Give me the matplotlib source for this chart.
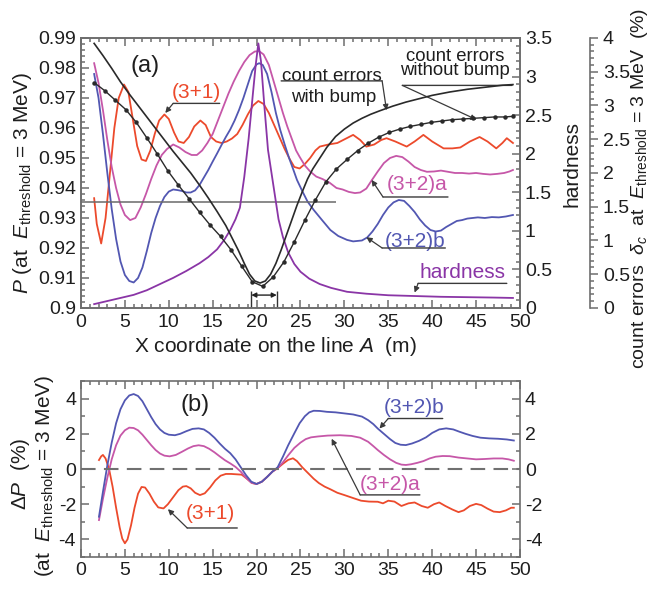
import matplotlib
matplotlib.use('Agg')
import matplotlib.pyplot as plt
from matplotlib.ticker import MultipleLocator, FuncFormatter

plt.rcParams['font.family'] = ['Liberation Sans', 'DejaVu Sans']
plt.rcParams['mathtext.fontset'] = 'custom'
plt.rcParams['mathtext.rm'] = 'Liberation Sans'
plt.rcParams['mathtext.it'] = 'Liberation Sans:italic'
plt.rcParams['mathtext.bf'] = 'Liberation Sans:bold'
plt.rcParams['axes.unicode_minus'] = False

# ---------------- data: panel (a) ----------------
x_31 = [1.5, 1.8, 2.3, 2.8, 3.3, 3.8, 4.3, 4.9, 5.4, 5.9, 6.4, 6.9, 7.4, 7.9, 8.4, 8.9, 9.5,
        10.0, 10.6, 11.1, 11.7, 12.3, 12.9, 13.6, 14.2, 14.8, 15.4, 16.0, 16.6, 17.2, 17.8,
        18.4, 19.0, 19.6, 20.2, 20.8, 21.4, 22.0, 22.6, 23.2, 23.8, 24.3, 24.9, 25.5, 26.1,
        26.7, 27.2, 28.2, 29.2, 30.2, 31.0, 31.8, 32.5, 33.4, 34.2, 34.8, 35.8, 37.1, 38.0,
        39.0, 40.0, 41.3, 42.3, 43.2, 44.3, 45.4, 46.3, 47.3, 48.0, 48.5, 49.2]
p_31 = [0.9366, 0.928, 0.9215, 0.930, 0.945, 0.960, 0.970, 0.9745, 0.972, 0.963, 0.954,
        0.9495, 0.949, 0.9525, 0.958, 0.9625, 0.9645, 0.963, 0.9585, 0.9555, 0.955, 0.957,
        0.9605, 0.9625, 0.961, 0.957, 0.9555, 0.955, 0.9555, 0.9565, 0.958, 0.961, 0.9645,
        0.9675, 0.969, 0.968, 0.965, 0.961, 0.957, 0.953, 0.9495, 0.947, 0.9465, 0.948, 0.950,
        0.9525, 0.9538, 0.9545, 0.955, 0.9565, 0.9577, 0.956, 0.9538, 0.9545, 0.956, 0.9566,
        0.9555, 0.9538, 0.9555, 0.9577, 0.9555, 0.9532, 0.9532, 0.9535, 0.9555, 0.957, 0.9555,
        0.9532, 0.955, 0.9566, 0.955]

x_32b = [1.5, 2.0, 2.5, 3.0, 3.5, 4.0, 4.5, 5.0, 5.5, 6.0, 6.5, 7.0, 7.5, 8.0, 8.5, 9.0, 9.5,
         10.0, 10.5, 11.0, 11.5, 12.0, 12.5, 13.0, 13.5, 14.0, 14.5, 15.0, 15.5, 16.0, 16.5,
         17.0, 17.5, 18.0, 18.5, 19.0, 19.5, 20.0, 20.3, 20.7, 21.2, 21.7, 22.2, 22.7, 23.2,
         23.7, 24.2, 24.6, 25.2, 25.8, 26.5, 27.4, 28.4, 29.3, 30.3, 31.0, 32.0, 32.6, 33.2,
         33.8, 34.4, 35.0, 35.6, 36.2, 36.8, 37.4, 38.0, 38.6, 39.2, 39.8, 40.4, 41.0, 41.6,
         42.2, 42.8, 43.4, 44.0, 44.6, 45.2, 46.0, 46.8, 47.6, 48.4, 49.2]
p_32b = [0.978, 0.970, 0.958, 0.945, 0.933, 0.923, 0.9155, 0.911, 0.909, 0.9085, 0.910,
         0.9135, 0.919, 0.925, 0.930, 0.934, 0.937, 0.9388, 0.9395, 0.9393, 0.939, 0.9385,
         0.9385, 0.9392, 0.941, 0.9435, 0.946, 0.9488, 0.9515, 0.9543, 0.957, 0.9595, 0.9625,
         0.966, 0.970, 0.9745, 0.979, 0.9812, 0.9816, 0.981, 0.978, 0.972, 0.965, 0.9593,
         0.9545, 0.950, 0.946, 0.9427, 0.939, 0.9355, 0.9327, 0.9295, 0.926, 0.924, 0.9227,
         0.9222, 0.9225, 0.9235, 0.9255, 0.928, 0.931, 0.9335, 0.9352, 0.936, 0.9357, 0.934,
         0.932, 0.9295, 0.9275, 0.926, 0.9255, 0.9258, 0.927, 0.928, 0.929, 0.9293, 0.9298,
         0.930, 0.9302, 0.930, 0.9303, 0.9302, 0.9305, 0.931]

x_32a = [1.5, 2.0, 2.5, 3.0, 3.5, 4.0, 4.5, 5.0, 5.6, 6.2, 6.8, 7.4, 8.0, 8.6, 9.2, 9.8, 10.5,
         11.2, 11.9, 12.6, 13.2, 13.8, 14.4, 15.0, 15.6, 16.2, 16.8, 17.4, 18.0, 18.6, 19.2,
         19.8, 20.3, 20.8, 21.4, 22.0, 22.5, 23.0, 23.5, 24.0, 24.5, 24.9, 25.5, 26.1, 26.8,
         27.5, 28.3, 29.1, 29.8, 30.5, 31.2, 31.8, 32.5, 33.1, 33.8, 34.5, 35.2, 35.9, 36.6,
         37.3, 38.0, 38.7, 39.4, 40.2, 41.0, 41.8, 42.6, 43.4, 44.2, 45.0, 45.8, 46.6, 47.4,
         48.2, 48.8, 49.2]
p_32a = [0.9816, 0.975, 0.966, 0.956, 0.947, 0.940, 0.9345, 0.931, 0.9293, 0.930, 0.9335,
         0.938, 0.943, 0.9475, 0.951, 0.953, 0.9545, 0.9535, 0.952, 0.951, 0.951, 0.9525,
         0.955, 0.958, 0.9625, 0.967, 0.9715, 0.9755, 0.979, 0.982, 0.9843, 0.9855, 0.9856,
         0.9845, 0.981, 0.975, 0.970, 0.965, 0.9605, 0.9565, 0.9525, 0.9504, 0.9475, 0.9455,
         0.9438, 0.943, 0.9418, 0.940, 0.9395, 0.9387, 0.9383, 0.9385, 0.9398, 0.9425, 0.9455,
         0.9483, 0.950, 0.9507, 0.9503, 0.9488, 0.947, 0.946, 0.9454, 0.9455, 0.9458, 0.9454,
         0.945, 0.945, 0.9448, 0.945, 0.9447, 0.9445, 0.9447, 0.945, 0.9455, 0.946]

x_hard = [1.5, 3, 4.5, 6, 7.5, 9, 10.5, 12, 13.5, 14.5, 15.5, 16.3, 17.0, 17.6, 18.1, 18.6,
          19.1, 19.6, 19.9, 20.2, 20.5, 20.9, 21.3, 21.9, 22.5, 23.0, 23.6, 24.3, 25.0, 26.0,
          27.2, 28.5, 30.3, 32.5, 35.0, 38.0, 41.0, 44.0, 47.0, 49.2]
hardness = [0.05, 0.09, 0.13, 0.17, 0.23, 0.31, 0.39, 0.48, 0.58, 0.66, 0.76, 0.88, 1.01,
            1.15, 1.3, 1.7, 2.2, 2.8, 3.15, 3.43, 3.2, 2.6, 2.05, 1.6, 1.15, 0.92, 0.72, 0.57,
            0.47, 0.38, 0.31, 0.26, 0.21, 0.185, 0.165, 0.155, 0.145, 0.14, 0.135, 0.13]

x_bump = [1.5, 2.5, 3.5, 4.5, 5.5, 6.5, 7.5, 8.5, 9.5, 10.5, 11.5, 12.5, 13.5, 14.5, 15.5,
          16.5, 17.2, 17.9, 18.6, 19.2, 19.8, 20.4, 21.0, 21.6, 22.2, 22.8, 23.4, 24.0, 24.6,
          25.2, 25.8, 26.4, 27.2, 28.0, 29.0, 30.0, 31.0, 32.0, 33.0, 34.0, 35.5, 37.0, 38.5,
          40.0, 42.0, 44.0, 46.0, 48.0, 49.2]
err_bump = [3.92, 3.74, 3.55, 3.35, 3.17, 3.00, 2.83, 2.66, 2.49, 2.32, 2.16, 2.00, 1.82,
            1.63, 1.43, 1.22, 1.04, 0.86, 0.66, 0.50, 0.40, 0.37, 0.40, 0.50, 0.66, 0.86, 1.08,
            1.30, 1.52, 1.72, 1.91, 2.06, 2.22, 2.38, 2.54, 2.65, 2.74, 2.81, 2.87, 2.92, 2.99,
            3.05, 3.10, 3.15, 3.20, 3.24, 3.27, 3.30, 3.31]

x_nobump = [1.5, 2.7, 3.9, 5.1, 6.3, 7.5, 8.7, 9.9, 11.1, 12.3, 13.5, 14.7, 15.9, 17.1, 18.3,
            19.5, 20.7, 21.9, 23.1, 24.3, 25.5, 26.7, 27.9, 29.1, 30.3, 31.5, 32.7, 33.9, 35.1,
            36.3, 37.5, 38.7, 39.9, 41.1, 42.3, 43.5, 44.7, 45.9, 47.1, 48.3, 49.2]
err_nobump = [3.34, 3.22, 3.08, 2.94, 2.75, 2.52, 2.28, 2.03, 1.82, 1.62, 1.42, 1.23, 1.06,
              0.86, 0.62, 0.39, 0.32, 0.46, 0.68, 0.98, 1.30, 1.60, 1.87, 2.06, 2.20, 2.33,
              2.44, 2.53, 2.60, 2.65, 2.69, 2.72, 2.75, 2.77, 2.79, 2.80, 2.81, 2.82, 2.83,
              2.83, 2.84]

ref_level = 0.9352      # horizontal reference line
ref_xmax = 29.0
fwhm_x = [19.4, 22.3]   # double arrow
fwhm_y = 0.9043

# ---------------- data: panel (b) ----------------
xb_32b = [2.05, 2.5, 3.0, 3.5, 4.0, 4.5, 5.0, 5.5, 6.0, 6.5, 7.0, 7.5, 8.0, 8.5, 9.0, 9.5,
          10.0, 10.7, 11.3, 12.0, 12.7, 13.4, 14.0, 14.6, 15.2, 15.8, 16.4, 17.0, 17.6, 18.2,
          18.8, 19.4, 20.0, 20.6, 21.2, 21.8, 22.4, 23.0, 23.6, 24.3, 24.9, 25.5, 26.0, 26.5,
          27.2, 28.0, 29.0, 30.0, 31.0, 32.0, 32.7, 33.3, 33.8, 34.5, 35.2, 35.8, 36.4, 37.0,
          37.7, 38.5, 39.3, 40.0, 40.8, 41.6, 42.4, 43.1, 43.8, 44.6, 45.5, 46.5, 47.5, 48.5,
          49.3]
dp_32b = [-2.71, -1.3, 0.2, 1.5, 2.6, 3.4, 3.9, 4.18, 4.26, 4.15, 3.85, 3.4, 2.95, 2.55, 2.25,
          2.05, 1.95, 1.92, 2.0, 2.15, 2.28, 2.31, 2.25, 2.05, 1.78, 1.45, 1.15, 0.9, 0.55, 0.1,
          -0.35, -0.72, -0.85, -0.72, -0.45, -0.15, 0.1, 0.7, 1.35, 2.03, 2.6, 3.0, 3.22, 3.31,
          3.3, 3.25, 3.22, 3.16, 3.1, 2.98, 2.78, 2.55, 2.3, 2.0, 1.7, 1.48, 1.38, 1.36, 1.45,
          1.6, 1.8, 2.05, 2.25, 2.31, 2.25, 2.12, 2.0, 1.88, 1.78, 1.74, 1.72, 1.68, 1.62]

xb_32a = [2.05, 2.5, 3.0, 3.5, 4.0, 4.5, 5.0, 5.5, 6.0, 6.5, 7.0, 7.5, 8.0, 8.5, 9.0, 9.5,
          10.1, 10.8, 11.5, 12.2, 12.8, 13.4, 14.0, 14.6, 15.2, 15.8, 16.4, 17.0, 17.6, 18.2,
          18.8, 19.4, 20.0, 20.6, 21.2, 21.8, 22.4, 23.0, 23.6, 24.3, 25.0, 25.6, 26.2, 27.0,
          28.1, 29.5, 30.8, 31.8, 32.7, 33.3, 33.8, 34.5, 35.2, 35.9, 36.5, 37.0, 37.6, 38.3,
          39.0, 39.7, 40.4, 41.2, 42.0, 43.0, 44.0, 45.0, 46.0, 47.0, 48.0, 48.7, 49.3]
dp_32a = [-2.9, -1.7, -0.5, 0.55, 1.35, 1.9, 2.2, 2.35, 2.33, 2.2, 1.95, 1.65, 1.35, 1.08,
          0.88, 0.76, 0.72, 0.8, 0.98, 1.17, 1.3, 1.35, 1.3, 1.15, 0.95, 0.72, 0.5, 0.32, 0.12,
          -0.15, -0.5, -0.78, -0.85, -0.72, -0.45, -0.15, 0.05, 0.38, 0.78, 1.2, 1.5, 1.7, 1.8,
          1.85, 1.9, 1.92, 1.88, 1.78, 1.55, 1.3, 1.08, 0.8, 0.55, 0.35, 0.25, 0.23, 0.27, 0.35,
          0.45, 0.6, 0.7, 0.74, 0.73, 0.65, 0.6, 0.55, 0.57, 0.6, 0.6, 0.55, 0.47]

xb_31 = [2.05, 2.3, 2.5, 2.8, 3.2, 3.6, 4.0, 4.4, 4.7, 5.0, 5.3, 5.7, 6.1, 6.5, 6.9, 7.3, 7.8,
         8.3, 8.8, 9.4, 9.9, 10.5, 11.1, 11.6, 12.0, 12.5, 13.0, 13.55, 14.1, 14.7, 15.3, 15.9,
         16.5, 17.1, 17.7, 18.3, 18.9, 19.5, 20.0, 20.6, 21.2, 21.8, 22.4, 23.0, 23.6, 24.15,
         24.6, 25.2, 25.9, 26.5, 27.1, 27.75, 28.4, 29.2, 30.0, 31.0, 31.9, 32.8, 33.8, 34.4,
         35.0, 35.7, 36.5, 37.3, 38.0, 38.8, 39.5, 40.2, 40.8, 41.5, 42.3, 43.0, 43.6, 44.3,
         45.0, 45.6, 46.3, 47.0, 47.7, 48.4, 49.0, 49.3]
dp_31 = [0.51, 0.72, 0.8, 0.6, 0.0, -1.0, -2.2, -3.3, -3.95, -4.22, -4.0, -3.2, -2.2, -1.4,
         -1.02, -1.05, -1.4, -1.85, -2.18, -2.24, -2.0, -1.6, -1.2, -1.0, -0.97, -1.1, -1.35,
         -1.48, -1.38, -1.05, -0.65, -0.38, -0.28, -0.28, -0.3, -0.32, -0.55, -0.8, -0.85,
         -0.72, -0.45, -0.15, 0.05, 0.3, 0.52, 0.61, 0.45, 0.1, -0.25, -0.55, -0.8, -1.0,
         -1.15, -1.35, -1.48, -1.65, -1.8, -1.85, -1.86, -1.95, -1.8, -1.85, -2.1, -1.95, -1.9,
         -2.1, -2.2, -2.0, -1.9, -2.1, -2.3, -2.45, -2.35, -2.1, -1.98, -2.05, -2.25, -2.42,
         -2.45, -2.35, -2.2, -2.2]

# ---------------- styles ----------------
RED = '#ec4a2c'
BLUE = '#5257b2'
MAG = '#c657a8'
PUR = '#8a35a6'
SPINE = '#6e6e6e'
TXT = '#1e1e1e'
LEAD = '#3a3a3a'
TICKFS = 14
LABFS = 15

fmt = FuncFormatter(lambda v, p: '%g' % round(v, 4))

fig = plt.figure(figsize=(6.52, 5.90), dpi=100)
ax = fig.add_axes([0.1242, 0.478, 0.6733, 0.4576])
axh = ax.twinx()
axc = ax.twinx()
axb = fig.add_axes([0.1242, 0.0559, 0.6733, 0.2983])

for a in (ax, axh, axc, axb):
    for s in a.spines.values():
        s.set_color(SPINE)
        s.set_linewidth(1.2)
    a.tick_params(which='both', colors=SPINE, labelcolor=TXT, labelsize=TICKFS, width=1.1)
    a.tick_params(which='major', length=6)
    a.tick_params(which='minor', length=3)

# panel (a) main
lw = 1.3
ax.plot(x_31, p_31, color=RED, lw=lw)
ax.plot(x_32a, p_32a, color=MAG, lw=lw)
ax.plot(x_32b, p_32b, color=BLUE, lw=lw)
ax.hlines(ref_level, 0, ref_xmax, color='#6a6a6a', lw=1.1)
ax.set_xlim(0, 50)
ax.set_ylim(0.9, 0.99)
ax.xaxis.set_major_locator(MultipleLocator(5))
ax.xaxis.set_minor_locator(MultipleLocator(1))
ax.yaxis.set_major_locator(MultipleLocator(0.01))
ax.yaxis.set_minor_locator(MultipleLocator(0.002))
ax.yaxis.set_major_formatter(fmt)
ax.tick_params(which='both', direction='in', top=True, right=False, left=True)
ax.tick_params(axis='x', pad=4)

axh.plot(x_hard, hardness, color=PUR, lw=lw)
axh.set_ylim(0, 3.5)
axh.yaxis.set_major_locator(MultipleLocator(0.5))
axh.yaxis.set_minor_locator(MultipleLocator(0.1))
axh.yaxis.set_major_formatter(fmt)
axh.tick_params(which='both', direction='in')

axc.plot(x_bump, err_bump, color='#2a2a2a', lw=1.2)
axc.plot(x_nobump, err_nobump, color='#2a2a2a', lw=1.0, marker='o', ms=2.2)
axc.set_ylim(0, 4)
axc.spines['right'].set_position(('axes', 1.159))
for k in ('left', 'top', 'bottom'):
    axc.spines[k].set_visible(False)
axc.yaxis.set_major_locator(MultipleLocator(0.5))
axc.yaxis.set_minor_locator(MultipleLocator(0.1))
axc.yaxis.set_major_formatter(fmt)
axc.tick_params(which='both', direction='out')

# double arrow at the dip
ax.vlines(fwhm_x, 0.9, 0.9056, color='#333333', lw=1.0)
ax.annotate('', xy=(fwhm_x[1], fwhm_y), xytext=(fwhm_x[0], fwhm_y),
            arrowprops=dict(arrowstyle='<|-|>', color='#222222', lw=1.0,
                            mutation_scale=7, shrinkA=0, shrinkB=0))

def leader(axis, x0, x1, y, tip, tip_coords='data', start='left', lcolor=LEAD):
    axis.annotate('', xy=(x1, y), xytext=(x0, y),
                  arrowprops=dict(arrowstyle='-', color=lcolor, lw=1.0, shrinkA=0, shrinkB=0))
    sx = x0 if start == 'left' else x1
    axis.annotate('', xy=tip, xycoords=tip_coords, xytext=(sx, y), textcoords='data',
                  arrowprops=dict(arrowstyle='-|>', color=lcolor, lw=0.9,
                                  mutation_scale=8, shrinkA=0, shrinkB=0))

ax.text(7.3, 0.9805, '(a)', fontsize=17, color=TXT, ha='center', va='center')
ax.text(13.1, 0.9718, '(3+1)', fontsize=15, color=RED, ha='center', va='center')
leader(ax, 10.5, 15.8, 0.9682, (9.6, 0.9650))

ax.text(28.6, 0.9770, 'count errors', fontsize=13.5, color=TXT, ha='center', va='center')
ax.text(28.8, 0.9703, 'with bump', fontsize=13.5, color=TXT, ha='center', va='center')
leader(ax, 22.8, 34.3, 0.9757, (34.8, 2.93), tip_coords=axc.transData, start='right')

ax.text(42.6, 0.9815, 'count errors\nwithout bump', fontsize=13.3, color=TXT,
        ha='center', va='center', multialignment='center', linespacing=0.78)
leader(ax, 36.6, 49.1, 0.9742, (45.05, 2.79), tip_coords=axc.transData)

ax.text(38.3, 0.9412, '(3+2)a', fontsize=15, color=MAG, ha='center', va='center')
leader(ax, 34.4, 41.8, 0.9370, (33.1, 0.9427))
ax.text(38.0, 0.9222, '(3+2)b', fontsize=15, color=BLUE, ha='center', va='center')
leader(ax, 34.3, 41.5, 0.9200, (32.5, 0.9236))
ax.text(43.5, 0.9118, 'hardness', fontsize=15, color=PUR, ha='center', va='center')
leader(ax, 38.4, 48.5, 0.9082, (38.0, 0.20), tip_coords=axh.transData)

# panel (b)
axb.plot(xb_31, dp_31, color=RED, lw=lw)
axb.plot(xb_32a, dp_32a, color=MAG, lw=lw)
axb.plot(xb_32b, dp_32b, color=BLUE, lw=lw)
axb.axhline(0, color='#707070', lw=1.5, dashes=(7, 4))
axb.set_xlim(0, 50)
axb.set_ylim(-5, 5)
axb.xaxis.set_major_locator(MultipleLocator(5))
axb.xaxis.set_minor_locator(MultipleLocator(1))
axb.yaxis.set_major_locator(MultipleLocator(2))
axb.yaxis.set_minor_locator(MultipleLocator(1))
axb.tick_params(which='both', direction='in', top=True, right=True, labelright=True)

axb.text(13.0, 3.65, '(b)', fontsize=17, color=TXT, ha='center', va='center')
axb.text(14.7, -2.55, '(3+1)', fontsize=15, color=RED, ha='center', va='center')
leader(axb, 12.1, 17.8, -3.35, (9.9, -2.28))
axb.text(35.2, -0.9, '(3+2)a', fontsize=15, color=MAG, ha='center', va='center')
leader(axb, 31.8, 38.6, -1.47, (28.55, 1.72))
axb.text(37.9, 3.5, '(3+2)b', fontsize=15, color=BLUE, ha='center', va='center')
leader(axb, 35.0, 41.2, 2.87, (34.0, 2.3))

# axis labels
fig.text(0.422, 0.412, r'X coordinate on the line $A$  (m)', fontsize=LABFS, color=TXT,
         ha='center', va='center')
fig.text(0.034, 0.69, r'$P$ (at  $E_{\mathrm{threshold}}$ = 3 MeV)', fontsize=LABFS,
         color=TXT, rotation=90, ha='center', va='center')
fig.text(0.877, 0.722, 'hardness', fontsize=LABFS, color=TXT, rotation=90,
         ha='center', va='center')
fig.text(0.981, 0.68, r'count errors  $\delta_c$  at  $E_{\mathrm{threshold}}$ = 3 MeV  (%)',
         fontsize=14, color=TXT, rotation=90, ha='center', va='center')
fig.text(0.031, 0.197, r'$\Delta P$  (%)', fontsize=LABFS, color=TXT, rotation=90,
         ha='center', va='center')
fig.text(0.069, 0.193, r'(at  $E_{\mathrm{threshold}}$ = 3 MeV)', fontsize=LABFS, color=TXT,
         rotation=90, ha='center', va='center')

fig.savefig('out.png', dpi=100)
